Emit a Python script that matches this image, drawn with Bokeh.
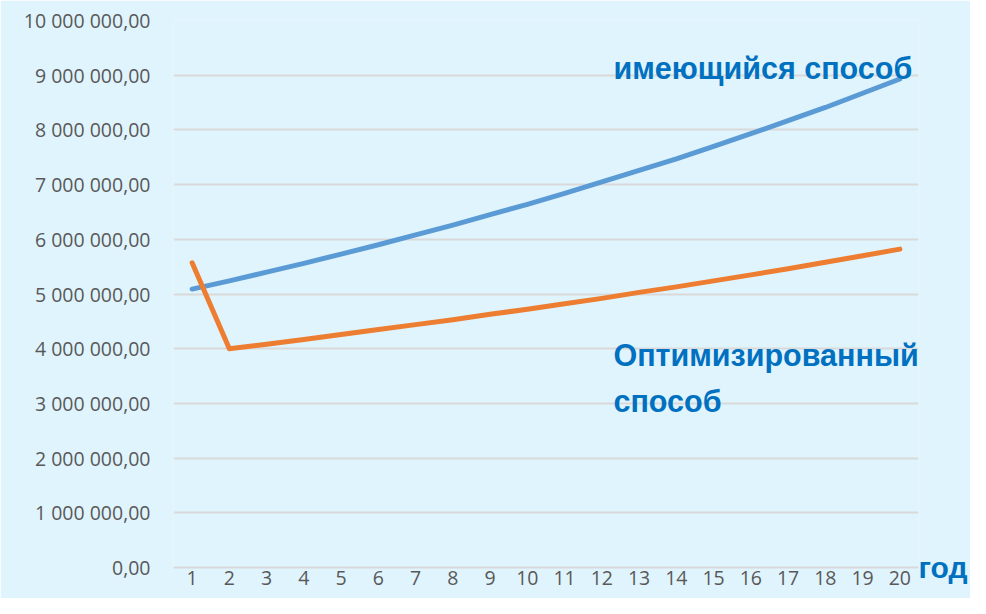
from bokeh.plotting import figure
from bokeh.models import FactorRange, Range1d, FixedTicker, Label, ColumnDataSource, LinearAxis
from bokeh.embed import file_html
from bokeh.resources import INLINE

years = [str(i) for i in range(1, 21)]
existing = [5.09e6, 5.24e6, 5.40e6, 5.56e6, 5.73e6, 5.90e6, 6.08e6, 6.26e6, 6.45e6, 6.64e6,
            6.84e6, 7.05e6, 7.26e6, 7.47e6, 7.70e6, 7.93e6, 8.17e6, 8.41e6, 8.67e6, 8.93e6]
optimized = [5.57e6, 4.00e6, 4.08e6, 4.17e6, 4.26e6, 4.35e6, 4.44e6, 4.53e6, 4.63e6, 4.72e6,
             4.82e6, 4.92e6, 5.03e6, 5.13e6, 5.24e6, 5.35e6, 5.46e6, 5.58e6, 5.70e6, 5.82e6]
y_ticks = [0, 1e6, 2e6, 3e6, 4e6, 5e6, 6e6, 7e6, 8e6, 9e6, 10e6]
y_tick_labels = ["0,00", "1 000 000,00", "2 000 000,00", "3 000 000,00", "4 000 000,00",
                 "5 000 000,00", "6 000 000,00", "7 000 000,00", "8 000 000,00",
                 "9 000 000,00", "10 000 000,00"]
label_existing = "имеющийся способ"
label_opt1 = "Оптимизированный"
label_opt2 = "способ"
x_title = "год"
y_title = "руб."

BG = "#E0F4FD"
BLUE_TXT = "#0070C0"
GREY = "#595959"

p = figure(width=970, height=598, output_backend="svg", toolbar_location=None,
           x_range=FactorRange(factors=years, range_padding=0),
           y_range=Range1d(0, 10e6),
           min_border_left=173, min_border_right=52, min_border_top=20, min_border_bottom=31)
p.background_fill_color = BG
p.border_fill_color = BG
p.outline_line_color = None

src = ColumnDataSource(dict(x=years, a=existing, b=optimized))
p.line("x", "a", source=src, line_color="#5B9BD5", line_width=5, line_cap="round", line_join="round")
p.line("x", "b", source=src, line_color="#ED7D31", line_width=5, line_cap="round", line_join="round")

p.xgrid.grid_line_color = None
p.ygrid.grid_line_color = "#D9D9D9"
p.ygrid.grid_line_width = 2
p.yaxis.ticker = FixedTicker(ticks=y_ticks)
p.yaxis.major_label_overrides = {t: l for t, l in zip(y_ticks, y_tick_labels)}

for ax in (p.xaxis[0], p.yaxis[0]):
    ax.major_tick_line_color = None
    ax.minor_tick_line_color = None
    ax.major_tick_out = 0
    ax.major_tick_in = 0
    ax.major_label_text_font = "Open Sans"
    ax.major_label_text_font_size = "19.5px"
    ax.major_label_text_color = GREY
p.yaxis.axis_line_color = None
p.yaxis.major_label_standoff = 23
p.xaxis.axis_line_color = "#D9D9D9"
p.xaxis.axis_line_width = 2
p.xaxis.major_label_standoff = 3

def lab(x, y, t, size="30.5px"):
    p.add_layout(Label(x=x, y=y, text=t, text_font="Liberation Sans", text_font_style="bold",
                       text_font_size=size, text_color=BLUE_TXT, text_baseline="alphabetic"))

lab(11.81, 9.14e6, label_existing)
lab(11.81, 3.876e6, label_opt1)
lab(11.81, 3.053e6, label_opt2)
lab(-1.10, 10.38e6, y_title)

# "год" as a horizontal axis title on the right, aligned to the bottom
ra = LinearAxis(ticker=FixedTicker(ticks=[]), axis_label=x_title, axis_line_color=None)
ra.major_tick_line_color = None
ra.minor_tick_line_color = None
ra.axis_label_text_font = "Liberation Sans"
ra.axis_label_text_font_style = "bold"
ra.axis_label_text_font_size = "30px"
ra.axis_label_text_color = BLUE_TXT
ra.axis_label_orientation = "horizontal"
ra.axis_label_align = "start"
ra.axis_label_standoff = 0
p.add_layout(ra, "right")

open("out.html", "w").write(file_html(p, INLINE))
